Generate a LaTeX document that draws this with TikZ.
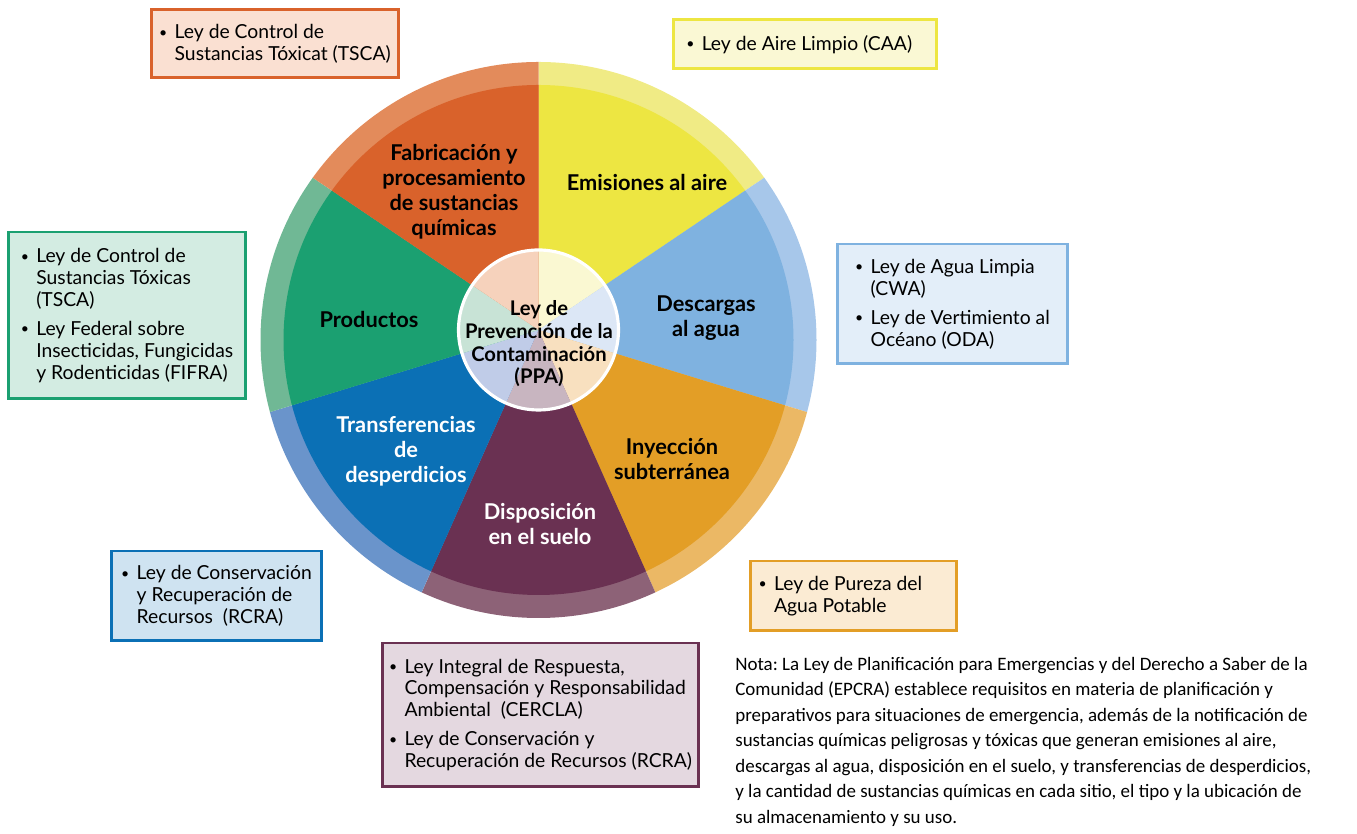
\documentclass[tikz,border=0pt]{standalone}
\usepackage{fontspec}
\setmainfont{Lato}
\newfontfamily\notefont{Carlito}
\frenchspacing

% sector colours: main, outer band, inner tint, law box fill
\definecolor{fab}{HTML}{D9622B}   \definecolor{fab-band}{HTML}{E38B5B}   \definecolor{fab-tint}{HTML}{F6D2BC}   \definecolor{fab-box}{HTML}{FAE0D2}
\definecolor{emis}{HTML}{EDE642}  \definecolor{emis-band}{HTML}{F0EB85}  \definecolor{emis-tint}{HTML}{FAF8D2}  \definecolor{emis-box}{HTML}{FAF8D4}
\definecolor{desc}{HTML}{7FB2E0}  \definecolor{desc-band}{HTML}{A7C7EA}  \definecolor{desc-tint}{HTML}{DCE7F6}  \definecolor{desc-box}{HTML}{E3EEF9}
\definecolor{iny}{HTML}{E39E26}   \definecolor{iny-band}{HTML}{EBB865}   \definecolor{iny-tint}{HTML}{F8E0BF}   \definecolor{iny-box}{HTML}{FBEBD3}
\definecolor{disp}{HTML}{6A3152}  \definecolor{disp-band}{HTML}{8D6277}  \definecolor{disp-tint}{HTML}{C8B5C0}  \definecolor{disp-box}{HTML}{E4D8E0}
\definecolor{trans}{HTML}{0B70B5} \definecolor{trans-band}{HTML}{6A94CB} \definecolor{trans-tint}{HTML}{C0CCE8} \definecolor{trans-box}{HTML}{CFE3F1}
\definecolor{prod}{HTML}{1BA071}  \definecolor{prod-band}{HTML}{70B895}  \definecolor{prod-tint}{HTML}{C8E3D6}  \definecolor{prod-box}{HTML}{D3ECE2}

\newcommand{\bul}{\makebox[0.8em][l]{\raisebox{0.15ex}{\footnotesize\textbullet}}}
\newcommand{\ind}{\hspace*{0.8em}}

\begin{document}
\begin{tikzpicture}[x=0.02cm, y=0.02cm,
    every node/.style={font=\fontsize{11}{12.5}\selectfont},
    sector/.style={font=\bfseries\fontsize{12.4}{14.2}\selectfont, align=center},
    lawbox/.style={draw=#1, fill=#1-box, line width=1.7pt, align=left}]
    \useasboundingbox (0,0) rectangle (1357,834);
    \coordinate (O) at (538.5,494);
    \coordinate (P) at (538.5,504);

    % outer band
    \begin{scope}
        \clip (O) circle (278);
        \foreach \a/\b/\k in {90/34/emis, 34/-17/desc, -17/-66/iny, -66/-114/disp, -114/-163/trans, -163/-214/prod, 146/90/fab} {
            \fill[\k-band] (P) -- ++(\a:600) arc[start angle=\a, end angle=\b, radius=600] -- cycle;
        }
    \end{scope}
    % main sectors
    \begin{scope}
        \clip (O) circle (255);
        \foreach \a/\b/\k in {90/34/emis, 34/-17/desc, -17/-66/iny, -66/-114/disp, -114/-163/trans, -163/-214/prod, 146/90/fab} {
            \fill[\k] (P) -- ++(\a:600) arc[start angle=\a, end angle=\b, radius=600] -- cycle;
        }
    \end{scope}
    % centre disc
    \begin{scope}
        \clip (P) circle (80);
        \foreach \a/\b/\k in {90/34/emis, 34/-17/desc, -17/-66/iny, -66/-114/disp, -114/-163/trans, -163/-214/prod, 146/90/fab} {
            \fill[\k-tint] (P) -- ++(\a:200) arc[start angle=\a, end angle=\b, radius=200] -- cycle;
        }
    \end{scope}
    \draw[white, line width=1.8pt] (P) circle (80);

    \node[sector, font=\bfseries\fontsize{11.5}{12.9}\selectfont] (ppa) at (539,490) {Ley de\\Prevención de la\\Contaminación\\(PPA)};
    \node[sector] (fabl)   at (454,642) {Fabricación y\\procesamiento\\de sustancias\\químicas};
    \node[sector] (emisl)  at (647,651) {Emisiones al aire};
    \node[sector] (descl)  at (706,516) {Descargas\\al agua};
    \node[sector] (inyl)   at (672,375) {Inyección\\subterránea};
    \node[sector, white] (displ)  at (540,310) {Disposición\\en el suelo};
    \node[sector, white] (transl) at (406,383) {Transferencias\\de\\desperdicios};
    \node[sector] (prodl)  at (369,514) {Productos};

    % law boxes
    \node[lawbox=fab, minimum width=4.96cm, minimum height=1.36cm] (tsca) at (275,790)
        {\bul Ley de Control de\\\ind Sustancias Tóxicat (TSCA)};
    \node[lawbox=emis, minimum width=5.28cm, minimum height=0.98cm] (caa) at (805,789.5)
        {\bul Ley de Aire Limpio (CAA)\hspace*{0.6em}};
    \node[lawbox=prod, minimum width=4.76cm, minimum height=3.34cm] (fifra) at (127,518.5)
        {\bul Ley de Control de\\\ind Sustancias Tóxicas\\\ind (TSCA)\\[4pt]\bul Ley Federal sobre\\\ind Insecticidas, Fungicidas\\\ind y Rodenticidas (FIFRA)};
    \node[lawbox=desc, minimum width=4.62cm, minimum height=2.4cm] (cwa) at (952.5,530)
        {\bul Ley de Agua Limpia\\\ind (CWA)\\[4pt]\bul Ley de Vertimiento al\\\ind Océano (ODA)};
    \node[lawbox=trans, minimum width=4.22cm, minimum height=1.8cm] (rcra) at (216.5,238)
        {\bul Ley de Conservación\\\ind y Recuperación de\\\ind Recursos~~(RCRA)};
    \node[lawbox=iny, minimum width=4.14cm, minimum height=1.4cm] (agua) at (853.5,238)
        {\bul Ley de Pureza del\\\ind Agua Potable\hspace*{3.2em}};
    \node[lawbox=disp, minimum width=6.34cm, minimum height=2.88cm] (cercla) at (540.5,119)
        {\bul Ley Integral de Respuesta,\\\ind Compensación y Responsabilidad\\\ind Ambiental~~(CERCLA)\\[4pt]\bul Ley de Conservación y\\\ind Recuperación de Recursos (RCRA)};

    \node[anchor=north west, inner sep=0pt, align=left, font=\notefont\fontsize{10.8}{14.5}\selectfont] (nota) at (735,177)
        {Nota: La Ley de Planificación para Emergencias y del Derecho a Saber de la\\
         Comunidad (EPCRA) establece requisitos en materia de planificación y\\
         preparativos para situaciones de emergencia, además de la notificación de\\
         sustancias químicas peligrosas y tóxicas que generan emisiones al aire,\\
         descargas al agua, disposición en el suelo, y transferencias de desperdicios,\\
         y la cantidad de sustancias químicas en cada sitio, el tipo y la ubicación de\\
         su almacenamiento y su uso.};
\end{tikzpicture}
\end{document}
